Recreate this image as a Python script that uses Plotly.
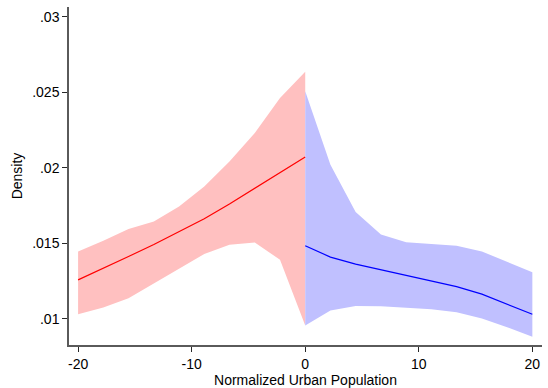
import plotly.graph_objects as go

# Normalized urban population grid, left and right of the cutoff
x_left = [-20, -17.78, -15.56, -13.33, -11.11, -8.89, -6.67, -4.44, -2.22, 0]
x_right = [0, 2.22, 4.44, 6.67, 8.89, 11.11, 13.33, 15.56, 17.78, 20]

# Density estimate and confidence band, left side
fit_left = [0.01257, 0.01332, 0.01412, 0.01491, 0.01574, 0.01662, 0.01760, 0.01863, 0.01967, 0.02072]
upper_left = [0.01445, 0.01516, 0.01594, 0.01644, 0.01744, 0.01876, 0.02042, 0.02231, 0.02463, 0.02636]
lower_left = [0.01029, 0.01073, 0.01135, 0.01235, 0.01330, 0.01428, 0.01489, 0.01505, 0.01390, 0.00954]

# Density estimate and confidence band, right side
fit_right = [0.01483, 0.01408, 0.01361, 0.01323, 0.01290, 0.01252, 0.01212, 0.01162, 0.01098, 0.01029]
upper_right = [0.02507, 0.02020, 0.01707, 0.01558, 0.01507, 0.01496, 0.01483, 0.01445, 0.01377, 0.01308]
lower_right = [0.00954, 0.01053, 0.01084, 0.01082, 0.01071, 0.01062, 0.01042, 0.01000, 0.00943, 0.00880]

x_ticks = [-20, -10, 0, 10, 20]
y_ticks = [0.01, 0.015, 0.02, 0.025, 0.03]
y_tick_text = [".01", ".015", ".02", ".025", ".03"]

FONT = "Liberation Sans, Arial, sans-serif"

fig = go.Figure()


def band(xs, lo, hi, color):
    return go.Scatter(
        x=list(xs) + list(xs)[::-1],
        y=list(hi) + list(lo)[::-1],
        fill="toself",
        fillcolor=color,
        line=dict(width=0),
        mode="lines",
        hoverinfo="skip",
        showlegend=False,
    )


fig.add_trace(band(x_left, lower_left, upper_left, "rgb(255,192,192)"))
fig.add_trace(band(x_right, lower_right, upper_right, "rgb(192,192,255)"))
fig.add_trace(go.Scatter(x=x_left, y=fit_left, mode="lines",
                         line=dict(color="rgb(255,0,0)", width=1.2), showlegend=False))
fig.add_trace(go.Scatter(x=x_right, y=fit_right, mode="lines",
                         line=dict(color="rgb(0,0,255)", width=1.2), showlegend=False))

axis_common = dict(
    showgrid=False,
    zeroline=False,
    showline=True,
    linecolor="rgb(90,90,90)",
    linewidth=1.5,
    ticks="outside",
    ticklen=5,
    tickwidth=1,
    tickcolor="rgb(40,40,40)",
    tickfont=dict(family=FONT, size=14, color="black"),
)

fig.update_layout(
    width=548,
    height=388,
    margin=dict(l=69, r=6, t=7, b=43),
    paper_bgcolor="white",
    plot_bgcolor="white",
    font=dict(family=FONT, size=14, color="black"),
    xaxis=dict(
        range=[-20.8, 20.85],
        tickvals=x_ticks,
        ticktext=[str(v) for v in x_ticks],
        title=dict(text="Normalized Urban Population", standoff=0,
                   font=dict(size=14)),
        **axis_common,
    ),
    yaxis=dict(
        range=[0.00825, 0.03066],
        tickvals=y_ticks,
        ticktext=y_tick_text,
        title=dict(text="Density", standoff=6, font=dict(size=14)),
        **axis_common,
    ),
)

fig.write_html("out.html")
